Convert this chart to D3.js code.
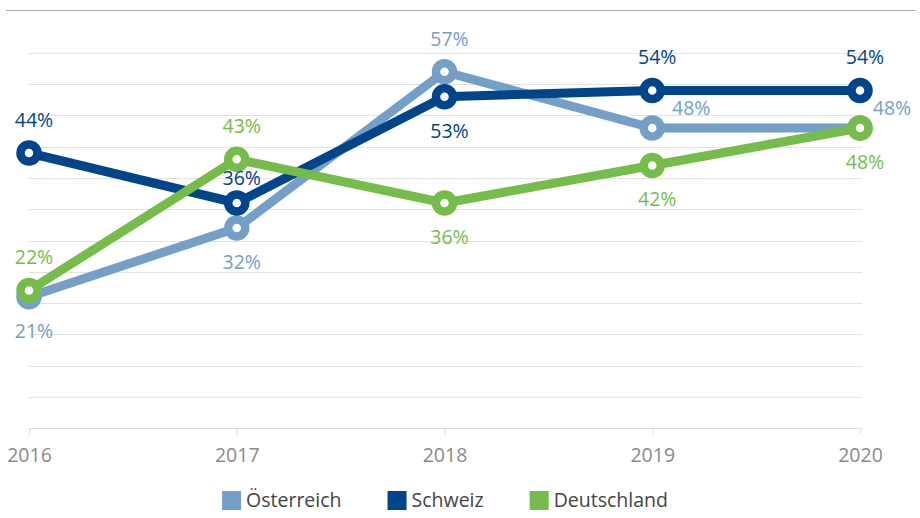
<!DOCTYPE html>
<html lang="de">
<head>
<meta charset="UTF-8">
<title>Chart</title>
<style>
  body { margin: 0; background: #fff; overflow: hidden; }
  svg { display: block; font-family: "Open Sans", Lato, sans-serif; }
</style>
</head>
<body>
<svg id="chart" width="920" height="518"></svg>
<script src="https://cdn.jsdelivr.net/npm/d3@7/dist/d3.min.js"></script>
<script>
// data
const years = ["2016", "2017", "2018", "2019", "2020"];
const seriesNames = ["Österreich", "Schweiz", "Deutschland"];
const oesterreich = [21, 32, 57, 48, 48];
const schweiz = [44, 36, 53, 54, 54];
const deutschland = [22, 43, 36, 42, 48];
const yTicks = [0, 5, 10, 15, 20, 25, 30, 35, 40, 45, 50, 55, 60];

// where the value labels sit
const labelPlace = {
  "Österreich": ["below", "below", "above", "right", "right"],
  "Schweiz": ["above", "near", "below", "above", "above"],
  "Deutschland": ["above", "above", "below", "below", "below"]
};
const colors = ["#74a0c8", "#00448a", "#76bc4a"];

const series = [oesterreich, schweiz, deutschland].map((vals, i) => ({
  name: seriesNames[i],
  color: colors[i],
  values: vals.map((v, j) => ({ year: years[j], value: v, place: labelPlace[seriesNames[i]][j] }))
}));

const W = 920, H = 518;
const svg = d3.select("#chart");

const x = d3.scalePoint().domain(years).range([29, 860]);
const y = d3.scaleLinear().domain([0, 60]).range([428, 53]);

// top separator
svg.append("line")
  .attr("x1", 6).attr("x2", 915).attr("y1", 10.5).attr("y2", 10.5)
  .attr("stroke", "#a8a8a8").attr("stroke-width", 1);

// gridlines
svg.append("g")
  .selectAll("line")
  .data(yTicks.slice(1))
  .join("line")
  .attr("x1", 29).attr("x2", 862)
  .attr("y1", d => Math.round(y(d)) + 0.5)
  .attr("y2", d => Math.round(y(d)) + 0.5)
  .attr("stroke", "#e3e3e3").attr("stroke-width", 1);

// x axis
const xAxis = svg.append("g")
  .attr("transform", `translate(0,${Math.round(y(0)) + 0.5})`)
  .call(d3.axisBottom(x).tickSize(6).tickPadding(14));
xAxis.select(".domain").attr("stroke", "#dedede").attr("d", "M29,0H862");
xAxis.selectAll(".tick line").attr("stroke", "#dedede");
xAxis.selectAll(".tick text")
  .attr("fill", "#8a8a8a")
  .attr("font-size", 19.5)
  .attr("font-family", "'Open Sans', Lato, sans-serif");

const line = d3.line().x(d => x(d.year)).y(d => y(d.value));

series.forEach(s => {
  const g = svg.append("g");
  g.append("path")
    .datum(s.values)
    .attr("d", line)
    .attr("fill", "none")
    .attr("stroke", s.color)
    .attr("stroke-width", 9)
    .attr("stroke-linejoin", "round");

  g.selectAll("circle")
    .data(s.values)
    .join("circle")
    .attr("cx", d => x(d.year))
    .attr("cy", d => y(d.value))
    .attr("r", 8.5)
    .attr("fill", "#fff")
    .attr("stroke", s.color)
    .attr("stroke-width", 8.5);
});

// value labels on top
series.forEach(s => {
  svg.append("g")
    .selectAll("text")
    .data(s.values)
    .join("text")
    .attr("x", d => {
      let px = x(d.year) + 5;
      if (d.place === "right") px = Math.min(x(d.year) + 39, W - 28);
      return px;
    })
    .attr("y", d => {
      const py = y(d.value);
      if (d.place === "above") return py - 33;
      if (d.place === "near") return py - 25;
      if (d.place === "right") return py - 20;
      return py + 34;
    })
    .attr("dy", "0.35em")
    .attr("text-anchor", "middle")
    .attr("fill", s.color)
    .attr("font-size", 19.5)
    .text(d => d.value + "%");
});

// legend
const legend = svg.append("g");
const items = legend.selectAll("g")
  .data(series)
  .join("g");
items.append("rect")
  .attr("width", 19).attr("height", 19)
  .attr("y", 491)
  .attr("fill", d => d.color);
items.append("text")
  .attr("x", 24)
  .attr("y", 500.5)
  .attr("dy", "0.35em")
  .attr("fill", "#444")
  .attr("font-size", 19.5)
  .text(d => d.name);

let offset = 0;
const widths = [];
items.each(function () { widths.push(this.getBBox().width); });
const gap = 46;
const total = d3.sum(widths) + gap * (widths.length - 1);
offset = 445 - total / 2;
items.attr("transform", (d, i) => {
  const t = `translate(${offset},0)`;
  offset += widths[i] + gap;
  return t;
});
</script>
</body>
</html>
